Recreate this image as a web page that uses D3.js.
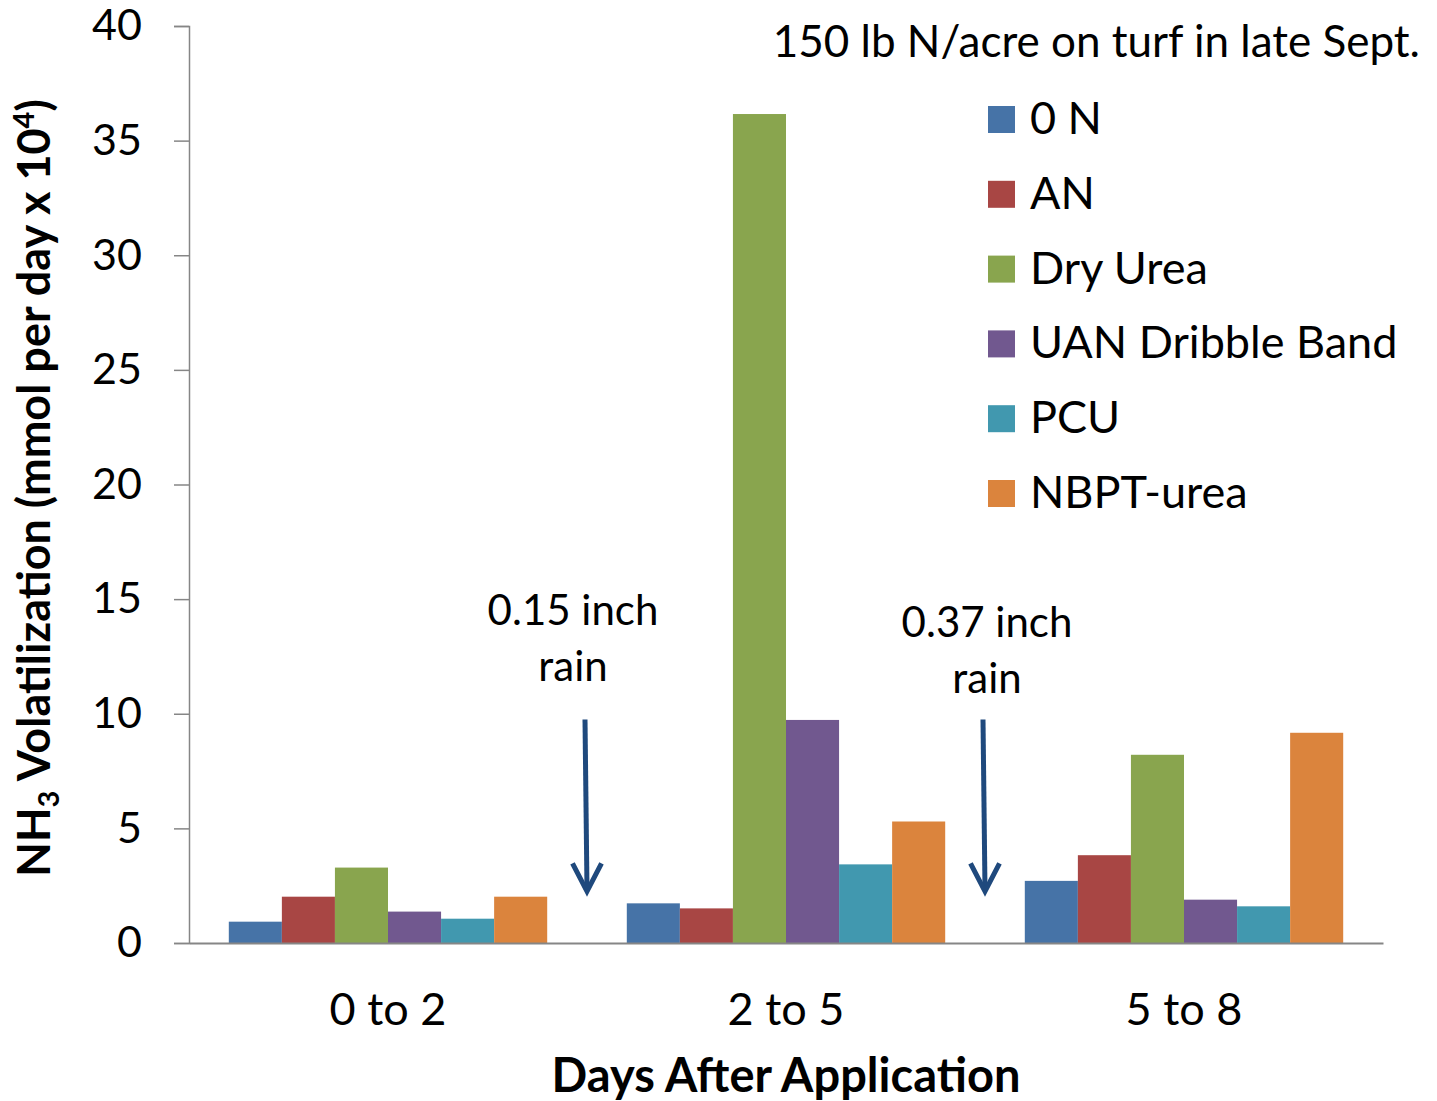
<!DOCTYPE html>
<html>
<head>
<meta charset="utf-8">
<script src="https://cdn.jsdelivr.net/npm/d3@7/dist/d3.min.js"></script>
<style>
  html, body { margin: 0; padding: 0; background: #fff; }
  svg { display: block; }
  text { font-family: Lato, "Open Sans", sans-serif; fill: #000; }
</style>
</head>
<body>
<svg id="chart" width="1437" height="1101"></svg>
<script>
// ---- data ----
const categories = ["0 to 2", "2 to 5", "5 to 8"];
const seriesNames = ["0 N", "AN", "Dry Urea", "UAN Dribble Band", "PCU", "NBPT-urea"];
const seriesColors = ["#4673A7", "#A84644", "#89A54E", "#71588F", "#4198AF", "#DB843D"];
const val0N      = [0.93, 1.73, 2.71];
const valAN      = [2.02, 1.51, 3.83];
const valDryUrea = [3.29, 36.16, 8.21];
const valUAN     = [1.37, 9.73, 1.89];
const valPCU     = [1.06, 3.43, 1.60];
const valNBPT    = [2.02, 5.30, 9.17];
const seriesValues = [val0N, valAN, valDryUrea, valUAN, valPCU, valNBPT];
const yTicks = [0, 5, 10, 15, 20, 25, 30, 35, 40];
const chartTitle = "150 lb N/acre on turf in late Sept.";
const xTitle = "Days After Application";
const rainNotes = [
  { after: 0, lines: ["0.15 inch", "rain"] },
  { after: 1, lines: ["0.37 inch", "rain"] }
];

// ---- layout ----
const svg = d3.select("#chart");
const plot = { left: 189, right: 1383, top: 26, bottom: 943 };

const x0 = d3.scaleBand().domain(categories)
  .range([plot.left, plot.right]).paddingInner(0.2).paddingOuter(0.1);
const x1 = d3.scaleBand().domain(seriesNames).range([0, x0.bandwidth()]).padding(0);
const y = d3.scaleLinear().domain([0, 40]).range([plot.bottom, plot.top]);
const color = d3.scaleOrdinal().domain(seriesNames).range(seriesColors);

// bars
const groups = svg.append("g").selectAll("g")
  .data(categories).join("g")
  .attr("transform", c => `translate(${x0(c)},0)`);
groups.selectAll("rect")
  .data((c, ci) => seriesNames.map((s, si) => ({ s, v: seriesValues[si][ci] })))
  .join("rect")
  .attr("x", d => x1(d.s))
  .attr("width", x1.bandwidth())
  .attr("y", d => y(d.v))
  .attr("height", d => y(0) - y(d.v))
  .attr("fill", d => color(d.s));

// y axis
const yAxis = svg.append("g")
  .attr("transform", `translate(${plot.left},0)`)
  .call(d3.axisLeft(y).tickValues(yTicks).tickSize(15).tickPadding(32).tickFormat(d3.format("d")));
yAxis.select(".domain").attr("stroke", "#868686").attr("stroke-width", 1.5);
yAxis.selectAll(".tick line").attr("stroke", "#868686").attr("stroke-width", 1.5);
yAxis.selectAll(".tick text").style("font-size", "43px").attr("fill", "#000");

// x axis line
const xAxis = svg.append("g")
  .attr("transform", `translate(0,${plot.bottom})`)
  .call(d3.axisBottom(x0).tickSize(0).tickPadding(50));
xAxis.select(".domain").attr("stroke", "#868686").attr("stroke-width", 2);
xAxis.selectAll(".tick text").style("font-size", "45px").attr("fill", "#000");

// axis titles
svg.append("text")
  .attr("x", 786)
  .attr("y", 1092)
  .attr("text-anchor", "middle")
  .style("font-size", "47px").style("font-weight", "bold")
  .text(xTitle);

const yt = svg.append("text")
  .attr("transform", `translate(50,488) rotate(-90)`)
  .attr("text-anchor", "middle")
  .style("font-size", "45px").style("font-weight", "bold");
yt.append("tspan").text("NH");
yt.append("tspan").text("3").style("font-size", "29px").attr("dy", 9);
yt.append("tspan").text(" Volatilization (mmol per day x 10").attr("dy", -9);
yt.append("tspan").text("4").style("font-size", "29px").attr("dy", -16);
yt.append("tspan").text(")").attr("dy", 16);

// chart title
svg.append("text")
  .attr("x", 1420).attr("y", 57)
  .attr("text-anchor", "end")
  .style("font-size", "44px")
  .text(chartTitle);

// legend
const legend = svg.append("g").selectAll("g")
  .data(seriesNames).join("g")
  .attr("transform", (d, i) => `translate(988,${106 + i * 74.8})`);
legend.append("rect").attr("width", 27).attr("height", 27).attr("fill", d => color(d));
legend.append("text").attr("x", 42).attr("y", 28).style("font-size", "45px").text(d => d);

// rain annotations
rainNotes.forEach((n, k) => {
  const mx = (x0(categories[n.after]) + x0.bandwidth() + x0(categories[n.after + 1])) / 2;
  const top = y(9.75), tip = y(2.25);
  const g = svg.append("g");
  g.append("line")
    .attr("x1", mx - 2).attr("y1", top).attr("x2", mx).attr("y2", tip - 2)
    .attr("stroke", "#1F497D").attr("stroke-width", 5);
  g.append("path")
    .attr("d", `M${mx - 14.5},${tip - 28} L${mx},${tip} L${mx + 14.5},${tip - 28}`)
    .attr("fill", "none").attr("stroke", "#1F497D").attr("stroke-width", 5)
    .attr("stroke-linejoin", "miter");
  const ty = k === 0 ? 625 : 637;
  n.lines.forEach((l, li) => {
    g.append("text")
      .attr("x", mx - 14 + k * 16).attr("y", ty + li * 56)
      .attr("text-anchor", "middle")
      .style("font-size", "42px")
      .text(l);
  });
});
</script>
</body>
</html>
